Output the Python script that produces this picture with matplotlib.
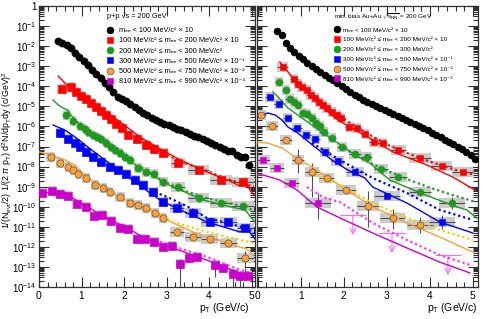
import numpy as np
import matplotlib
matplotlib.use('Agg')
import matplotlib.pyplot as plt
from matplotlib.patches import Rectangle
from matplotlib.lines import Line2D
from matplotlib.ticker import LogLocator, MultipleLocator, FuncFormatter, NullFormatter

plt.rcParams['font.family'] = ['Liberation Sans', 'DejaVu Sans']
plt.rcParams['mathtext.fontset'] = 'custom'
plt.rcParams['mathtext.rm'] = 'Liberation Sans'
plt.rcParams['mathtext.it'] = 'Liberation Sans:italic'
plt.rcParams['mathtext.bf'] = 'Liberation Sans:bold'

# ========== [ DATA : p+p (left), values are log10 of the yield ] ==========
pp_m0_x = [0.45, 0.55, 0.65, 0.75, 0.85, 0.95, 1.05, 1.15, 1.25, 1.35, 1.45, 1.55, 1.65, 1.75, 1.85,
           1.95, 2.05, 2.15, 2.25, 2.35, 2.45, 2.55, 2.65, 2.75, 2.85, 2.95, 3.05, 3.15, 3.25, 3.35,
           3.45, 3.55, 3.65, 3.75, 3.85, 3.95, 4.05, 4.15, 4.25, 4.35, 4.45, 4.55, 4.65, 4.75, 4.85, 4.95]
pp_m0_y = [-1.76, -1.84, -1.92, -2.10, -2.32, -2.52, -2.72, -2.94, -3.20, -3.40, -3.60, -3.84, -4.05, -4.28, -4.52,
           -4.61, -4.75, -4.90, -5.05, -5.20, -5.32, -5.45, -5.58, -5.68, -5.78, -5.87, -5.95, -6.03, -6.12, -6.20,
           -6.29, -6.38, -6.47, -6.55, -6.64, -6.73, -6.82, -6.92, -7.02, -7.12, -7.22, -7.20, -7.42, -7.52, -7.50, -7.90]

pp_m1_x = [0.54, 0.75, 0.87, 0.99, 1.11, 1.22, 1.34, 1.46, 1.58, 1.69, 1.81, 1.95, 2.09, 2.31, 2.52, 2.71,
           2.92, 3.27, 3.76, 4.28, 4.80]
pp_m1_y = [-4.13, -4.04, -4.28, -4.48, -4.63, -4.83, -5.03, -5.23, -5.43, -5.63, -5.88, -6.08, -6.43, -6.63,
           -6.93, -7.13, -7.32, -7.82, -8.17, -8.67, -8.77]

pp_m2_x = [0.64, 0.80, 0.96, 1.08, 1.15, 1.27, 1.36, 1.46, 1.58, 1.69, 1.79, 1.91, 2.02, 2.14, 2.33, 2.52,
           2.71, 2.92, 3.27, 3.76, 4.28, 4.80]
pp_m2_y = [-5.43, -5.73, -5.98, -6.13, -6.28, -6.43, -6.53, -6.63, -6.83, -7.03, -7.17, -7.32, -7.52, -7.67,
           -8.07, -8.27, -8.37, -8.77, -9.02, -9.57, -9.82, -9.97]

pp_m3_x = [0.49, 0.68, 0.85, 0.96, 1.11, 1.27, 1.46, 1.67, 1.86, 2.05, 2.26, 2.45, 2.68, 2.92, 3.25, 3.62,
           4.02, 4.45, 4.85]
pp_m3_y = [-6.33, -6.63, -6.83, -7.03, -7.27, -7.52, -7.77, -8.02, -8.17, -8.37, -8.67, -8.92, -9.27, -9.77,
           -10.06, -10.31, -10.76, -10.76, -11.06]

pp_m4_x = [0.28, 0.49, 0.68, 0.80, 0.92, 1.11, 1.32, 1.51, 1.67, 1.91, 2.14, 2.33, 2.52, 2.73, 2.92, 3.25,
           3.62, 4.02, 4.45, 4.85]
pp_m4_y = [-7.52, -7.82, -8.02, -8.17, -8.37, -8.57, -8.92, -9.07, -9.27, -9.52, -9.82, -9.92, -10.06, -10.31,
           -10.56, -11.26, -11.51, -11.61, -11.81, -12.56]

pp_m5_x = [0.07, 0.31, 0.49, 0.68, 0.89, 1.11, 1.29, 1.48, 1.69, 1.91, 2.09, 2.31, 2.49, 2.71, 2.92, 3.13,
           3.32, 3.53, 3.72, 4.14, 4.33, 4.56, 4.73, 4.92]
pp_m5_y = [-9.32, -9.22, -9.37, -9.47, -9.87, -10.01, -10.46, -10.41, -10.71, -11.06, -11.11, -11.61, -11.61,
           -11.76, -12.01, -11.96, -12.85, -12.56, -12.51, -12.90, -13.05, -13.35, -13.45, -13.45]

# model curves p+p : solid = cocktail, dotted = second cocktail
pp_c1_x = [0.45, 0.61, 0.85, 1.20, 1.44, 1.91, 2.38, 2.85, 3.32, 3.95, 4.49, 4.73, 4.87, 4.96, 5.06]
pp_c1_y = [-3.49, -3.84, -4.28, -4.73, -5.08, -5.78, -6.53, -7.12, -7.67, -8.27, -8.72, -8.97, -8.82, -9.17, -9.42]
pp_d1_x = [2.40, 2.90, 3.40, 3.95, 4.40, 4.80, 5.06]
pp_d1_y = [-6.60, -7.30, -7.80, -8.22, -8.60, -8.85, -9.00]

pp_c2_x = [0.33, 0.45, 0.56, 0.68, 0.75, 0.92, 1.15, 1.55, 1.93, 2.33, 2.56, 2.85, 3.15, 3.55, 3.79, 4.33,
           4.73, 4.87, 4.96, 5.08]
pp_c2_y = [-4.68, -4.93, -5.08, -5.18, -5.43, -5.83, -6.28, -6.68, -7.32, -8.02, -8.27, -8.67, -9.02, -9.37,
           -9.62, -9.92, -10.11, -10.21, -10.46, -10.76]
pp_d2_x = [2.40, 2.90, 3.40, 3.95, 4.40, 4.90, 5.06]
pp_d2_y = [-8.02, -8.70, -9.20, -9.57, -9.80, -10.00, -10.26]

pp_c3_x = [0.33, 0.61, 0.85, 1.15, 1.55, 1.93, 2.33, 2.61, 2.85, 3.32, 3.95, 4.42, 4.73, 4.89, 5.01, 5.08]
pp_c3_y = [-5.93, -6.18, -6.53, -7.03, -7.67, -8.27, -8.87, -9.32, -9.67, -10.16, -10.76, -11.06, -11.26,
           -11.11, -11.41, -11.61]
pp_d3_x = [2.50, 3.00, 3.50, 3.95, 4.40, 4.75, 5.00, 5.08]
pp_d3_y = [-9.10, -9.50, -10.00, -10.56, -10.80, -11.00, -11.20, -11.35]

pp_c4_x = [0.00, 0.28, 0.61, 0.85, 0.99, 1.22, 1.55, 1.86, 2.21, 2.61, 3.01, 3.15, 3.79, 3.95, 4.42, 4.73,
           4.89, 5.04]
pp_c4_y = [-7.27, -7.42, -7.67, -7.92, -8.27, -8.67, -9.02, -9.52, -9.82, -10.16, -10.66, -10.81, -11.41,
           -11.51, -11.81, -12.01, -12.11, -12.41]
pp_d4_x = [2.50, 3.15, 3.95, 4.42, 4.73, 5.04]
pp_d4_y = [-10.00, -10.76, -11.26, -11.51, -11.66, -11.80]

pp_c5_x = [0.00, 0.45, 0.64, 0.75, 0.99, 1.55, 2.16, 2.56, 3.15, 3.95, 4.73, 5.04]
pp_c5_y = [-9.32, -9.27, -9.32, -9.52, -9.82, -10.51, -11.16, -11.66, -12.06, -12.66, -13.30, -13.55]
pp_d5_x = [2.50, 3.15, 3.95, 4.73, 5.04]
pp_d5_y = [-11.50, -11.96, -12.50, -13.15, -13.35]

# ========== [ DATA : Au+Au (right) ] ==========
aa_m0_x = [0.45, 0.55, 0.65, 0.75, 0.85, 0.95, 1.05, 1.15, 1.25, 1.35, 1.45, 1.55, 1.65, 1.75, 1.85,
           1.95, 2.05, 2.15, 2.25, 2.35, 2.45, 2.55, 2.65, 2.75, 2.85, 2.95, 3.05, 3.15, 3.25, 3.35,
           3.45, 3.55, 3.65, 3.75, 3.85, 3.95, 4.05, 4.15, 4.25, 4.35, 4.45, 4.55, 4.65, 4.75, 4.85, 4.95, 5.05]
aa_m0_y = [-1.27, -1.42, -1.86, -2.08, -2.27, -2.48, -2.66, -2.85, -3.00, -3.14, -3.28, -3.42, -3.57, -3.71,
           -3.85, -3.99, -4.13, -4.27, -4.41, -4.55, -4.67, -4.77, -4.88, -4.98, -5.08, -5.19, -5.29, -5.39,
           -5.49, -5.59, -5.69, -5.80, -5.90, -6.00, -6.10, -6.20, -6.32, -6.43, -6.55, -6.66, -6.78, -6.90,
           -7.01, -7.14, -7.28, -7.42, -7.60]

aa_m1_x = [0.58, 0.84, 0.93, 1.02, 1.14, 1.23, 1.33, 1.42, 1.51, 1.60, 1.72, 1.84, 1.93, 2.12, 2.30, 2.49,
           2.70, 2.91, 3.26, 3.77, 4.28, 4.77]
aa_m1_y = [-3.04, -3.64, -3.89, -4.04, -4.19, -4.43, -4.58, -4.78, -4.93, -5.08, -5.28, -5.43, -5.58, -6.03,
           -6.08, -6.38, -6.78, -6.83, -7.17, -7.57, -7.97, -8.27]

aa_m2_x = [0.49, 0.65, 0.74, 0.84, 0.93, 1.05, 1.14, 1.26, 1.35, 1.44, 1.53, 1.72, 1.95, 2.26, 2.53, 2.86,
           3.26, 3.77, 4.51]
aa_m2_y = [-3.79, -4.19, -4.63, -4.78, -4.93, -5.33, -5.38, -5.58, -5.83, -5.98, -6.28, -6.58, -7.03, -7.37,
           -7.52, -8.12, -8.52, -9.27, -9.82]

aa_m3_x = [0.28, 0.49, 0.70, 0.91, 1.12, 1.33, 1.56, 1.86, 2.26, 3.00, 4.28]
aa_m3_y = [-4.53, -4.88, -5.58, -6.08, -6.43, -6.63, -7.27, -7.72, -8.27, -9.47, -10.76]

aa_m4_x = [0.07, 0.33, 0.65, 0.93, 1.26, 1.60, 2.05, 2.56, 3.14, 3.77]
aa_m4_y = [-5.43, -5.98, -6.68, -7.67, -8.27, -8.57, -9.17, -9.96, -10.56, -10.91]

aa_m5_x = [0.12, 0.44, 0.79, 1.40]
aa_m5_y = [-7.67, -8.07, -8.82, -9.82]
aa_m5_lim_x = [2.21, 3.12, 4.42]
aa_m5_lim_y = [-10.41, -11.31, -12.41]

aa_c1_x = [0.51, 0.67, 0.79, 0.93, 1.16, 1.49, 1.86, 2.26, 2.56, 3.14, 3.93, 4.53, 5.05]
aa_c1_y = [-2.79, -3.19, -3.54, -3.84, -4.33, -5.03, -5.68, -6.18, -6.53, -7.27, -7.92, -8.52, -9.17]
aa_d1_x = [1.90, 2.50, 3.00, 3.50, 4.00, 4.50, 4.80, 5.05]
aa_d1_y = [-5.50, -6.30, -6.90, -7.35, -7.75, -8.10, -8.30, -8.40]

aa_c2_x = [0.35, 0.47, 0.70, 1.09, 1.49, 1.86, 2.26, 2.60, 3.07, 3.84, 4.63, 4.86, 5.09]
aa_c2_y = [-4.28, -4.53, -5.08, -5.68, -6.28, -6.83, -7.42, -7.82, -8.67, -9.37, -10.01, -10.16, -10.56]
aa_d2_x = [2.00, 2.50, 3.00, 3.50, 4.00, 4.50, 5.05]
aa_d2_y = [-7.10, -7.70, -8.20, -8.65, -9.05, -9.40, -9.75]

aa_c3_x = [0.00, 0.09, 0.23, 0.40, 0.56, 0.70, 0.93, 1.33, 1.72, 2.09, 2.49, 2.67, 3.47, 4.23, 5.00]
aa_c3_y = [-5.53, -5.43, -5.33, -5.43, -5.68, -6.03, -6.33, -7.03, -7.67, -8.17, -8.57, -9.02, -9.82,
           -10.76, -11.31]
aa_d3_x = [1.26, 1.90, 2.67, 3.47, 4.23, 5.00]
aa_d3_y = [-6.83, -7.67, -8.57, -9.32, -10.16, -10.66]

aa_c4_x = [0.00, 0.23, 0.56, 0.86, 1.26, 1.72, 2.14, 2.67, 3.47, 4.23, 5.00]
aa_c4_y = [-6.78, -6.83, -7.07, -7.52, -8.02, -8.67, -9.27, -10.01, -10.81, -11.51, -12.26]
aa_d4_x = [1.37, 1.91, 2.67, 3.47, 4.23, 5.00]
aa_d4_y = [-8.42, -8.92, -9.82, -10.56, -11.16, -11.66]

aa_c5_x = [0.00, 0.12, 0.51, 0.91, 1.37, 1.91, 2.67, 3.47, 4.23, 4.93]
aa_c5_y = [-8.42, -8.42, -8.67, -9.17, -10.01, -10.56, -11.31, -12.06, -12.76, -13.30]
aa_d5_x = [1.14, 1.51, 1.91, 2.67, 3.47, 4.23, 4.93]
aa_d5_y = [-9.02, -9.52, -9.77, -10.81, -11.66, -12.41, -12.90]

LABELS = ['m\u2091\u2091 < 100 MeV/c\u00b2 \u00d7 10',
          '100 MeV/c\u00b2 \u2264 m\u2091\u2091 < 200 MeV/c\u00b2 \u00d7 10',
          '200 MeV/c\u00b2 \u2264 m\u2091\u2091 < 300 MeV/c\u00b2',
          '300 MeV/c\u00b2 \u2264 m\u2091\u2091 < 500 MeV/c\u00b2 \u00d7 10\u207b\u00b9',
          '500 MeV/c\u00b2 \u2264 m\u2091\u2091 < 750 MeV/c\u00b2 \u00d7 10\u207b\u00b2',
          '810 MeV/c\u00b2 \u2264 m\u2091\u2091 < 990 MeV/c\u00b2 \u00d7 10\u207b\u00b3']

COLORS  = ['black', '#ff0000', '#1e9a1e', '#0000ff', '#f7a040', '#cc00cc']
DOTTED  = ['black', '#ff0000', '#1e9a1e', '#0000ff', '#f2cf00', '#ff33ff']
MARKERS = ['o', 's', 'o', 's', 'o', 's']


def half_widths(x, lo, hi):
    x = np.asarray(x)
    gaps = np.diff(x)
    left = np.r_[gaps[0], gaps]
    right = np.r_[gaps, gaps[-1]]
    return np.clip(0.5 * np.minimum(left, right), lo, hi)


def draw_series(ax, x, logy, i, bars_from, lo, hi, ms):
    x = np.asarray(x)
    y = 10.0 ** np.asarray(logy)
    if i > 0:
        hw = half_widths(x, lo, hi)
        for xi, yi, h in zip(x, y, hw):
            ax.add_patch(Rectangle((xi - h, yi / 1.7), 2 * h, yi * 1.7 - yi / 1.7,
                                   fc='#cbcbcb', ec='none', zorder=2))
        sel = x >= bars_from
        ax.hlines(y[sel], (x - hw)[sel], (x + hw)[sel], color='#505050', lw=0.8, zorder=3)
    ec = '#5a3a00' if i == 4 else COLORS[i]
    ax.plot(x, y, ls='none', marker=MARKERS[i], ms=ms, mfc=COLORS[i], mec=ec, mew=0.4, zorder=5)


def draw_curve(ax, x, logy, color, ls):
    if ls == ':':
        ax.plot(x, 10.0 ** np.asarray(logy), color=color, lw=1.6, ls=(0, (1, 1.3)), zorder=4)
    else:
        ax.plot(x, 10.0 ** np.asarray(logy), color=color, lw=1.0, zorder=4)


def style_axes(ax, xmin, xmax, show_ylabels):
    ax.set_yscale('log')
    ax.set_ylim(1e-14, 1)
    ax.set_xlim(xmin, xmax)
    ax.yaxis.set_major_locator(LogLocator(base=10, numticks=20))
    ax.yaxis.set_minor_locator(LogLocator(base=10, subs=np.arange(2, 10), numticks=20))
    ax.yaxis.set_minor_formatter(NullFormatter())
    ax.yaxis.set_major_formatter(FuncFormatter(
        lambda v, p: '1' if abs(v - 1) < 1e-9 else r'$10^{%d}$' % round(np.log10(v))))
    ax.xaxis.set_major_locator(MultipleLocator(1))
    ax.xaxis.set_minor_locator(MultipleLocator(0.2))
    ax.tick_params(which='both', direction='in', top=True, right=True, labelsize=7.0,
                   width=0.8, color='#303030')
    ax.tick_params(which='major', length=7)
    ax.tick_params(which='minor', length=3.5)
    ax.tick_params(axis='y', pad=2, labelleft=show_ylabels)
    ax.tick_params(axis='x', pad=3, labelsize=7.4)
    for s in ax.spines.values():
        s.set_linewidth(0.9)
        s.set_color('#303030')


fig = plt.figure(figsize=(4.91, 3.19), dpi=100)
axL = fig.add_axes([39 / 491, 32 / 319, 216 / 491, 281 / 319])
axR = fig.add_axes([257 / 491, 32 / 319, 221 / 491, 281 / 319])

# ---------- p+p ----------
pp_x = [pp_m0_x, pp_m1_x, pp_m2_x, pp_m3_x, pp_m4_x, pp_m5_x]
pp_y = [pp_m0_y, pp_m1_y, pp_m2_y, pp_m3_y, pp_m4_y, pp_m5_y]
pp_cx = [pp_c1_x, pp_c2_x, pp_c3_x, pp_c4_x, pp_c5_x]
pp_cy = [pp_c1_y, pp_c2_y, pp_c3_y, pp_c4_y, pp_c5_y]
pp_dx = [pp_d1_x, pp_d2_x, pp_d3_x, pp_d4_x, pp_d5_x]
pp_dy = [pp_d1_y, pp_d2_y, pp_d3_y, pp_d4_y, pp_d5_y]

for k in range(5):
    draw_curve(axL, pp_cx[k], pp_cy[k], COLORS[k + 1], '-')
    draw_curve(axL, pp_dx[k], pp_dy[k], DOTTED[k + 1], ':')
for i in range(6):
    draw_series(axL, pp_x[i], pp_y[i], i, 3.0, 0.05, 0.25, 5.2)

# a few large statistical errors
for xi, lo, hi in [(3.32, -14.0, -12.6), (4.14, -13.5, -12.7), (4.56, -14.0, -13.1),
                   (4.73, -14.0, -13.2), (4.85, -13.3, -12.2)]:
    axL.vlines(xi, 10.0 ** lo, 10.0 ** hi, color='#505050', lw=0.8, zorder=3)

# ---------- Au+Au ----------
aa_x = [aa_m0_x, aa_m1_x, aa_m2_x, aa_m3_x, aa_m4_x, aa_m5_x]
aa_y = [aa_m0_y, aa_m1_y, aa_m2_y, aa_m3_y, aa_m4_y, aa_m5_y]
aa_cx = [aa_c1_x, aa_c2_x, aa_c3_x, aa_c4_x, aa_c5_x]
aa_cy = [aa_c1_y, aa_c2_y, aa_c3_y, aa_c4_y, aa_c5_y]
aa_dx = [aa_d1_x, aa_d2_x, aa_d3_x, aa_d4_x, aa_d5_x]
aa_dy = [aa_d1_y, aa_d2_y, aa_d3_y, aa_d4_y, aa_d5_y]

for k in range(5):
    draw_curve(axR, aa_cx[k], aa_cy[k], COLORS[k + 1], '-')
    draw_curve(axR, aa_dx[k], aa_dy[k], DOTTED[k + 1], ':')
for i in range(6):
    draw_series(axR, aa_x[i], aa_y[i], i, 0.0, 0.1, 0.3, 5.0)

for xi, lo, hi in [(0.93, -8.3, -7.1), (1.26, -9.5, -7.8), (2.56, -11.0, -9.2), (3.14, -11.1, -10.1),
                   (3.77, -11.3, -10.5), (1.40, -10.6, -9.3), (4.28, -11.1, -10.4), (4.51, -10.1, -9.5)]:
    axR.vlines(xi, 10.0 ** lo, 10.0 ** hi, color='#505050', lw=0.8, zorder=3)

lim_y = 10.0 ** np.asarray(aa_m5_lim_y)
axR.hlines(lim_y, np.asarray(aa_m5_lim_x) - 0.3, np.asarray(aa_m5_lim_x) + 0.3, color='#ff66ff', lw=0.8)
for xi, yi in zip(aa_m5_lim_x, lim_y):
    axR.annotate('', xy=(xi, yi / 10), xytext=(xi, yi),
                 arrowprops=dict(arrowstyle='->', color='#ff66ff', lw=0.8, shrinkA=0, shrinkB=0))

style_axes(axL, 0, 5.08, True)
style_axes(axR, -0.02, 5.12, False)

# ---------- legends ----------
handles = []
for i in range(6):
    ec = '#5a3a00' if i == 4 else COLORS[i]
    handles.append(Line2D([], [], ls='none', marker=MARKERS[i], ms=5, mfc=COLORS[i], mec=ec, mew=0.4))

legL = axL.legend(handles, LABELS, loc='upper left', bbox_to_anchor=(0.29, 0.995), frameon=False,
                  fontsize=5.3, title='p+p \u221as = 200 GeV', title_fontsize=5.3,
                  handlelength=1.0, handletextpad=0.6, labelspacing=0.42, borderpad=0.2)
legL._legend_box.align = 'left'
legL._legend_box.sep = 5

legR = axR.legend(handles, LABELS, loc='upper left', bbox_to_anchor=(0.33, 0.995), frameon=False,
                  fontsize=4.6, title=r'min. bias Au+Au $\sqrt{s_{\rm NN}}$ = 200 GeV', title_fontsize=4.6,
                  handlelength=0.9, handletextpad=0.5, labelspacing=0.68, borderpad=0.2)
legR._legend_box.align = 'left'
legR._legend_box.sep = 3.5

fig.text(0.0145, 0.53,
         r'1/(N$_{\rm evt}$/2) 1/(2 $\pi$ p$_{\rm T}$) d$^2$N/dp$_{\rm T}$dy (c/GeV)$^2$',
         rotation=90, ha='center', va='center', fontsize=6.4)
fig.text(250 / 491, 0.035, r'p$_{\rm T}$ (GeV/c)', ha='right', va='center', fontsize=7.5)
fig.text(478 / 491, 0.035, r'p$_{\rm T}$ (GeV/c)', ha='right', va='center', fontsize=7.5)

plt.savefig('out.png', dpi=100)
